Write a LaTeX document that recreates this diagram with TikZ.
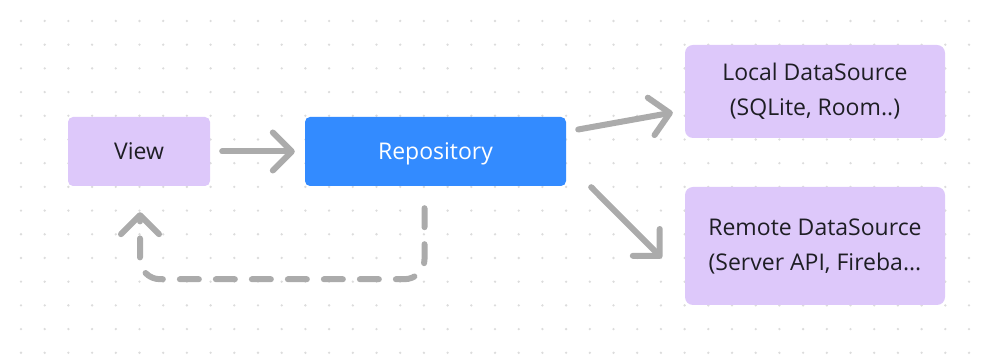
\documentclass[tikz,border=0pt]{standalone}
\usepackage{fontspec}
\setmainfont{Open Sans}
\usetikzlibrary{arrows.meta}
\definecolor{lavender}{HTML}{DDC8FA}
\definecolor{repoblue}{HTML}{338BFF}
\definecolor{arrowgray}{HTML}{ABABAB}
\definecolor{dotgray}{HTML}{DCDCDC}
\definecolor{textdark}{HTML}{1E1E24}
\tikzstyle{every node}=[font=\fontsize{23}{35}\selectfont]
\tikzstyle{every path}=[line cap=round,line join=round]
\tikzstyle{databox}=[fill=lavender,text=textdark,rounded corners=5pt,align=center,inner sep=0pt]
\tikzstyle{repobox}=[fill=repoblue,text=white,rounded corners=5pt,align=center,inner sep=0pt,text depth=0pt]
\tikzstyle{flow}=[draw=arrowgray,line width=6pt,-{Straight Barb[round,length=19pt,width=38pt]}]

\begin{document}
\begin{tikzpicture}[x=1pt,y=1pt]
% Layer pattern
	\newcommand\gridstep{23.7} %spacing of the background dots
	\useasboundingbox (0,0) rectangle (993,363);
	\foreach \i in {0,...,40} \foreach \j in {0,...,14} \fill[dotgray] (21+\gridstep*\i, 342-\gridstep*\j) circle (1.3pt); %% dotted canvas
	\node[databox,minimum width=142pt,minimum height=69pt] (view) at (139,211.5) {View};
	\node[repobox,minimum width=261pt,minimum height=69pt] (repo) at (435.5,211.5) {Repository};
	\node[databox,rounded corners=8pt,minimum width=260pt,minimum height=93pt] (local) at (815,271.5) {Local DataSource\\(SQLite, Room..)};
	\node[databox,rounded corners=8pt,minimum width=260pt,minimum height=118pt] (remote) at (815,117) {Remote DataSource\\(Server API, Fireba...};
	\draw[flow] ([xshift=12pt]view.east) -- ([xshift=-10pt]repo.west);
	\draw[flow] ([shift={(12pt,22pt)}]repo.east) -- ([shift={(-12pt,-21pt)}]local.west);
	\draw[flow] ([shift={(25pt,-1pt)}]repo.south east) -- ([shift={(-23pt,-12pt)}]remote.west);
	\draw[flow,dash pattern=on 19pt off 17pt,rounded corners=20pt] ([shift={(-11pt,-22pt)}]repo.south) -- ++(0,-71) -| ([shift={(1pt,-26pt)}]view.south); %% data back to the view
\end{tikzpicture}
\end{document}
